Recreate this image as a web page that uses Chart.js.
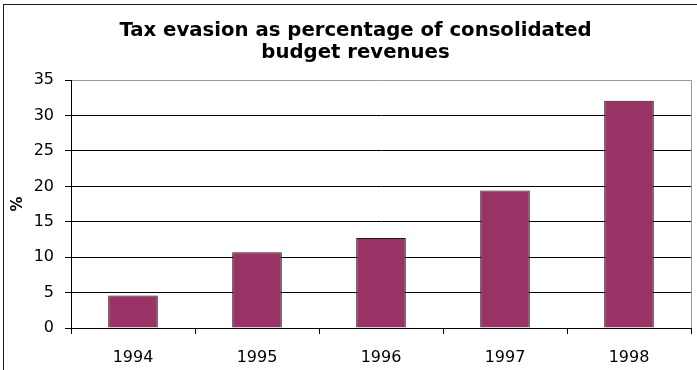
<!DOCTYPE html>
<html>
<head>
<meta charset="utf-8">
<script src="https://cdn.jsdelivr.net/npm/chart.js@4.4.1/dist/chart.umd.min.js"></script>
<style>
  html, body { margin: 0; padding: 0; background: #fff; }
  #wrap { width: 697px; height: 370px; }
</style>
</head>
<body>
<div id="wrap"><canvas id="grafica"></canvas></div>
<script>
// datos del grafico
const years = ['1994', '1995', '1996', '1997', '1998'];
const evasion = [4.6, 10.7, 12.7, 19.4, 32.1];
const yMin = 0;
const yMax = 35;
const yStep = 5;

// marco exterior y borde gris del area de trazado
const marcos = {
    id: 'marcos',
    beforeDraw: function(chart) {
        let ctx = chart.ctx;
        ctx.save();
        ctx.fillStyle = '#fff';
        ctx.fillRect(0, 0, chart.width, chart.height);
        ctx.strokeStyle = '#1a1a1a';
        ctx.lineWidth = 1;
        ctx.strokeRect(3.5, 4.5, chart.width + 10, chart.height + 10);
        ctx.restore();
    },
    beforeDatasetsDraw: function(chart) {
        let a = chart.chartArea;
        let ctx = chart.ctx;
        ctx.save();
        ctx.strokeStyle = '#9a9a9a';
        ctx.lineWidth = 1;
        ctx.beginPath();
        ctx.moveTo(Math.round(a.right) + 0.5, a.top);
        ctx.lineTo(Math.round(a.right) + 0.5, a.bottom);
        ctx.stroke();
        ctx.restore();
    }
};

Chart.defaults.font.family = "'DejaVu Sans', 'Liberation Sans', Arial, sans-serif";
Chart.defaults.color = '#000';

let ctx = document.getElementById('grafica').getContext('2d');

let graph = new Chart(ctx, {
    type: 'bar',
    data: {
        labels: years,
        datasets: [{
            label: 'Tax evasion',
            data: evasion,
            backgroundColor: '#993366',
            borderColor: '#1a1a1a',
            borderWidth: 1,
            categoryPercentage: 1,
            barPercentage: 0.4
        }]
    },
    options: {
        responsive: true,
        maintainAspectRatio: false,
        animation: false,
        layout: {
            // el titulo queda centrado un poco a la derecha
            padding: { top: 0, right: 6, bottom: 0, left: 20 }
        },
        plugins: {
            legend: { display: false },
            tooltip: { enabled: false },
            title: {
                display: true,
                text: ['Tax evasion as percentage of consolidated', 'budget revenues'],
                color: '#000',
                font: { size: 19.7, weight: 'bold', lineHeight: 1.12 },
                padding: { top: 20, bottom: 16 }
            }
        },
        scales: {
            x: {
                offset: true,
                grid: {
                    offset: true,
                    drawOnChartArea: false,
                    color: '#000',
                    tickLength: 6
                },
                border: { color: '#000' },
                ticks: {
                    font: { size: 16 },
                    padding: 14
                },
                afterFit: function(s) { s.height = 42; }
            },
            y: {
                min: yMin,
                max: yMax,
                ticks: {
                    stepSize: yStep,
                    font: { size: 16 },
                    padding: 11
                },
                grid: {
                    color: function(c) {
                        return c.tick && c.tick.value === yMax ? '#9a9a9a' : '#000';
                    },
                    tickColor: '#000',
                    tickLength: 6
                },
                border: { color: '#000' },
                title: {
                    display: true,
                    text: '%',
                    font: { size: 15, weight: 'bold' },
                    padding: { top: -10.5, bottom: 0 }
                },
                afterFit: function(s) { s.width = 51; }
            }
        }
    },
    plugins: [marcos]
});
</script>
</body>
</html>
